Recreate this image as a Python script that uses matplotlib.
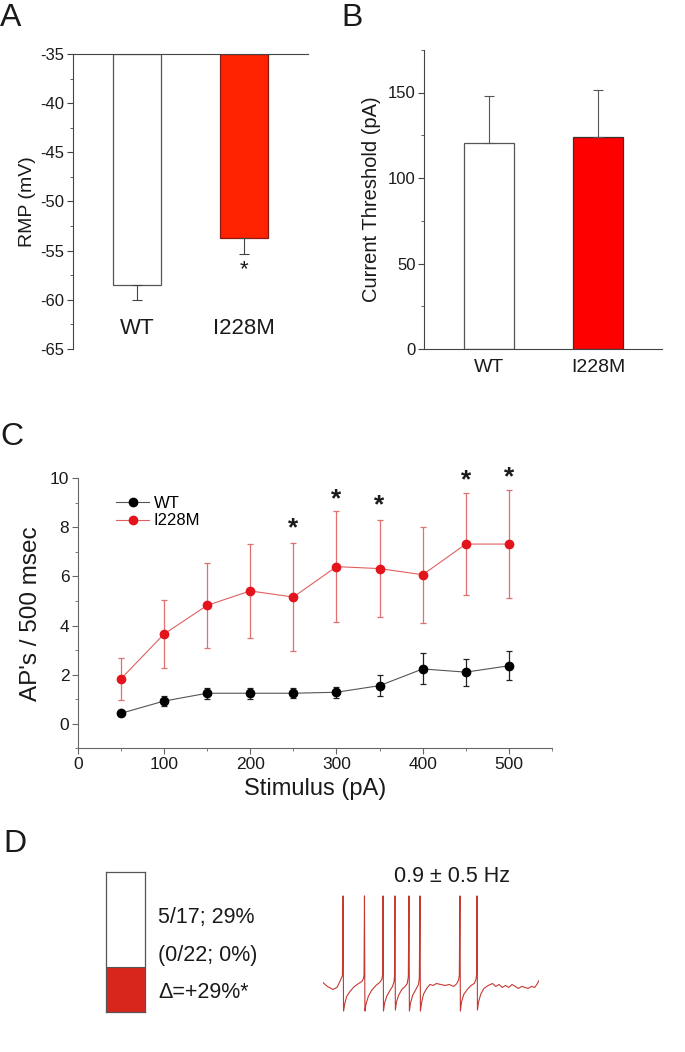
import numpy as np
import matplotlib
matplotlib.use("Agg")
import matplotlib.pyplot as plt
from matplotlib.ticker import MultipleLocator

plt.rcParams['font.family'] = ['Liberation Sans', 'DejaVu Sans']
plt.rcParams['axes.unicode_minus'] = False

# panel A - resting membrane potential
groups = ["WT", "I228M"]
rmp = [-58.5, -53.7]
rmp_err = [1.5, 1.6]

# panel B - current threshold
thresh = [120.6, 124.0]
thresh_err = [27.2, 27.3]

# panel C - firing vs stimulus
stim = [50, 100, 150, 200, 250, 300, 350, 400, 450, 500]
wt_aps = [0.42, 0.92, 1.24, 1.24, 1.24, 1.28, 1.55, 2.23, 2.10, 2.36]
wt_err = [0.10, 0.22, 0.23, 0.23, 0.20, 0.22, 0.42, 0.63, 0.55, 0.60]
mut_aps = [1.82, 3.65, 4.82, 5.41, 5.16, 6.40, 6.32, 6.07, 7.32, 7.32]
mut_err = [0.85, 1.40, 1.72, 1.90, 2.19, 2.26, 1.99, 1.96, 2.08, 2.20]
star_stim = [250, 300, 350, 450, 500]
star_y = [7.95, 9.13, 8.88, 9.91, 10.04]

# panel D - fraction of spontaneously firing cells + example trace
frac_fire = [32, 68]
d_labels = ["5/17; 29%", "(0/22; 0%)", "\u0394=+29%*"]
trace_t = [0, 20, 46, 65, 82, 90, 93, 95, 100, 110, 125, 145, 165, 180, 187, 190,
           192, 194, 199, 210, 225, 245, 262, 272, 276, 278, 280, 285, 295, 310,
           322, 329, 331, 333, 335, 340, 350, 365, 380, 390, 395, 398, 400, 405,
           415, 430, 442, 446, 449, 451, 456, 465, 480, 495, 510, 525, 545, 565,
           585, 605, 620, 628, 631, 634, 636, 641, 652, 668, 685, 700, 708, 711,
           713, 715, 720, 730, 745, 765, 785, 800, 815, 830, 845, 860, 875, 890,
           905, 920, 935, 950, 965, 980, 990, 1000]
trace_v = [-48, -52, -55, -53, -45, -41, 40, -77, -70, -62, -57, -52, -49, -47, -44, -40,
           40, -77, -70, -62, -56, -51, -48, -45, -40, 40, -77, -69, -62, -56,
           -52, -47, -41, 40, -76, -68, -61, -55, -52, -49, -42, 40, -77, -69,
           -61, -55, -50, -43, 40, -77, -69, -60, -54, -50, -51, -49, -50, -51,
           -50, -52, -49, -45, -41, 40, -77, -68, -60, -55, -51, -49, -45, -40,
           40, -76, -68, -60, -54, -51, -49, -52, -50, -53, -51, -53, -50, -52,
           -54, -52, -53, -54, -52, -53, -50, -46]

W, H = 685, 1052
fig = plt.figure(figsize=(6.85, 10.52), dpi=100)

def box(x0, y0, x1, y1):
    return [x0 / W, 1 - y1 / H, (x1 - x0) / W, (y1 - y0) / H]

axis_col = "#444444"
txt_col = "#1a1a1a"

# ---------- A ----------
axA = fig.add_axes(box(73, 54, 308, 349))
xs = [1, 2]
axA.bar(xs, [v + 35 for v in rmp], bottom=-35, width=0.45,
        color=["white", "#ff2200"], edgecolor=["#555555", "#8a1a10"], linewidth=0.9)
axA.errorbar(xs, rmp, yerr=[rmp_err, [0, 0]], fmt="none", ecolor="#444444",
             elinewidth=0.8, capsize=3.5, capthick=0.8)
axA.set_xlim(0.404, 2.596)
axA.set_ylim(-65, -35)
for s in ["right", "bottom"]:
    axA.spines[s].set_visible(False)
axA.spines["left"].set_color(axis_col)
axA.spines["top"].set_color(axis_col)
axA.set_xticks([])
axA.yaxis.set_major_locator(MultipleLocator(5))
axA.yaxis.set_minor_locator(MultipleLocator(2.5))
axA.tick_params(axis="y", which="major", length=4, color=axis_col, labelsize=12,
                labelcolor=txt_col, pad=2)
axA.tick_params(axis="y", which="minor", length=2.5, color=axis_col)
axA.set_ylabel("RMP (mV)", fontsize=14, color=txt_col, labelpad=3)
for x, g in zip(xs, groups):
    axA.text(x, -62.9, g, ha="center", va="center", fontsize=16, color=txt_col)
axA.text(2, -56.9, "*", ha="center", va="center", fontsize=16, color=txt_col)

# ---------- B ----------
axB = fig.add_axes(box(424, 349 - 175 * 1.71, 662, 349))
axB.bar(xs, thresh, width=0.46, color=["white", "#ff0000"],
        edgecolor=["#555555", "#333333"], linewidth=0.9)
axB.errorbar(xs, thresh, yerr=[[0, 0], thresh_err], fmt="none", ecolor="#555555",
             elinewidth=0.8, capsize=3.5, capthick=0.8)
axB.set_xlim(0.404, 2.587)
axB.set_ylim(0, 175)
for s in ["right", "top"]:
    axB.spines[s].set_visible(False)
axB.spines["left"].set_color(axis_col)
axB.spines["bottom"].set_color(axis_col)
axB.set_xticks(xs)
axB.set_xticklabels(groups)
axB.tick_params(axis="x", length=0, labelsize=14, labelcolor=txt_col, pad=7)
axB.yaxis.set_major_locator(MultipleLocator(50))
axB.yaxis.set_minor_locator(MultipleLocator(25))
axB.tick_params(axis="y", which="major", length=4, color=axis_col, labelsize=12,
                labelcolor=txt_col, pad=2)
axB.tick_params(axis="y", which="minor", length=2.5, color=axis_col)
axB.set_ylabel("Current Threshold (pA)", fontsize=14.5, color=txt_col, labelpad=5)

# ---------- C ----------
axC = fig.add_axes(box(77.7, 478.3, 552.1, 748.2))
red = "#e3141b"
axC.errorbar(stim, mut_aps, yerr=mut_err, fmt="none", ecolor="#e06f6f",
             elinewidth=0.9, capsize=2.5, capthick=0.9, zorder=2)
axC.errorbar(stim, wt_aps, yerr=wt_err, fmt="none", ecolor="#222222",
             elinewidth=0.9, capsize=2.5, capthick=0.9, zorder=2)
axC.plot(stim, wt_aps, "-o", color="#555555", mfc="black", mec="black",
         ms=6, lw=0.8, label="WT", zorder=3)
axC.plot(stim, mut_aps, "-o", color="#e06060", mfc=red, mec=red,
         ms=6, lw=0.8, label="I228M", zorder=3)
for x, y in zip(star_stim, star_y):
    axC.text(x, y, "*", ha="center", va="center", fontsize=19, fontweight="bold",
             color=txt_col, clip_on=False)
axC.set_xlim(0, 550)
axC.set_ylim(-1, 10)
for s in ["right", "top"]:
    axC.spines[s].set_visible(False)
axC.spines["left"].set_color("#666666")
axC.spines["bottom"].set_color("#666666")
axC.xaxis.set_major_locator(MultipleLocator(100))
axC.xaxis.set_minor_locator(MultipleLocator(50))
axC.yaxis.set_minor_locator(MultipleLocator(1))
axC.set_yticks(range(0, 11, 2))
axC.tick_params(which="major", length=4, color="#666666", labelsize=12.5,
                labelcolor=txt_col, pad=2)
axC.tick_params(which="minor", length=2.5, color="#666666")
axC.set_xlabel("Stimulus (pA)", fontsize=17, color=txt_col, labelpad=5)
axC.set_ylabel("AP's / 500 msec", fontsize=17.5, color=txt_col, labelpad=6)
axC.legend(loc="upper left", bbox_to_anchor=(0.081, 0.935), frameon=False,
           fontsize=12, handlelength=2.0, handletextpad=0.25, labelspacing=0.15,
           borderpad=0, borderaxespad=0)

# ---------- D ----------
axD = fig.add_axes(box(106, 872, 145, 1012))
axD.bar([0], [frac_fire[0]], width=1, color="#d9261c", edgecolor="none")
axD.bar([0], [frac_fire[1]], bottom=frac_fire[0], width=1, color="white",
        edgecolor="none")
axD.axhline(frac_fire[0], color="#555555", lw=0.8)
axD.set_xlim(-0.5, 0.5)
axD.set_ylim(0, 100)
axD.set_xticks([])
axD.set_yticks([])
for s in axD.spines.values():
    s.set_color("#555555")
    s.set_linewidth(0.9)

for yp, lab in zip([917, 955, 993], d_labels):
    fig.text(158.5 / W, 1 - yp / H, lab, ha="left", va="center", fontsize=15.5,
             color=txt_col)
fig.text(452 / W, 1 - 877 / H, "0.9 \u00b1 0.5 Hz", ha="center", va="center",
         fontsize=15.5, color=txt_col)

axT = fig.add_axes(box(323, 891, 539, 1015))
axT.plot(trace_t, trace_v, color="#c43a32", lw=0.8)
axT.set_xlim(0, 1000)
axT.set_ylim(-81, 45)
axT.axis("off")

# panel letters
for lx, ly, lab in [(0, 26, "A"), (341, 26, "B"), (0, 445, "C"), (3, 852, "D")]:
    fig.text(lx / W, 1 - ly / H, lab, ha="left", va="baseline", fontsize=23,
             color=txt_col)

fig.savefig("out.png", dpi=100)
